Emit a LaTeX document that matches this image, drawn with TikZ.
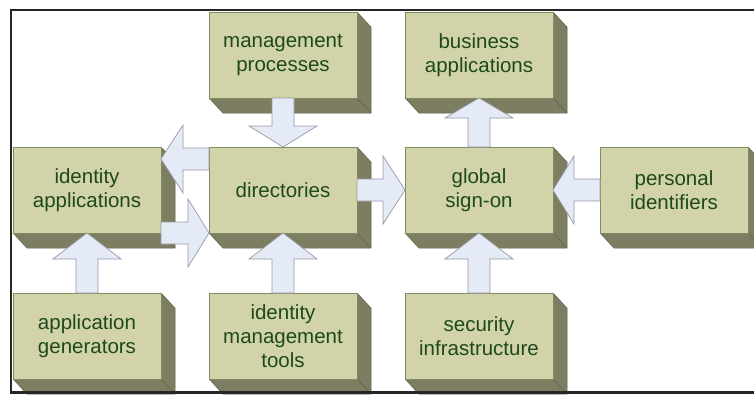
\documentclass[tikz,border=0pt]{standalone}
\usepackage{fontspec}
\setmainfont{Liberation Sans}
\usetikzlibrary{calc}
\definecolor{frontc}{HTML}{D3D3A9}
\definecolor{edgec}{HTML}{7F8C63}
\definecolor{sidec}{HTML}{7D7D62}
\definecolor{sideedge}{HTML}{5F5F48}
\definecolor{textc}{HTML}{1C4A1C}
\definecolor{arrowc}{HTML}{E4EAF6}
\definecolor{arrowedge}{HTML}{9A9AA6}
\tikzset{
  face/.style={draw=edgec, line width=0.6pt, fill=frontc, text=textc,
    minimum width=148pt, minimum height=86pt, inner sep=0pt, outer sep=0pt,
    align=center, font=\fontsize{20.5}{24}\selectfont},
  side/.style={fill=sidec, draw=sideedge, line width=0.5pt, line join=round},
  arr/.style={fill=arrowc, draw=arrowedge, line width=0.7pt, line join=miter},
}
\newcommand\xbox[4]{%
  \draw[side] (#2+148,#3) -- (#2+162,#3+15) -- (#2+162,#3+101) -- (#2+14,#3+101) -- (#2,#3+86) -- (#2+148,#3+86) -- cycle;
  \draw[sideedge, line width=0.5pt] (#2+148,#3+86) -- (#2+162,#3+101);
  \node[face, anchor=north west] (#1) at (#2,#3) {#4};
}
\newcommand\blockarrow[3][22pt]{%
  \coordinate (ba-c) at ($(#3)!#1!(#2)$);
  \draw[arr] ($(#2)!11pt!90:(#3)$) -- ($(ba-c)!11pt!90:(#3)$) -- ($(ba-c)!34pt!90:(#3)$)
    -- (#3) -- ($(ba-c)!34pt!-90:(#3)$) -- ($(ba-c)!11pt!-90:(#3)$) -- ($(#2)!11pt!-90:(#3)$) -- cycle;
}
\begin{document}
\begin{tikzpicture}[x=1pt, y=-1pt]
\useasboundingbox (0,0) rectangle (754,394);
\clip (0,0) rectangle (754,394);
\fill[white] (0,0) rectangle (754,394);
% boxes
\xbox{mp}{209}{12}{management\\processes}
\xbox{ba}{405}{12}{business\\applications}
\xbox{ia}{13}{147}{identity\\applications}
\xbox{dir}{209}{147}{directories}
\xbox{gso}{405}{147}{global\\sign-on}
\xbox{pi}{600}{147}{personal\\identifiers}
\xbox{ag}{13}{293}{application\\generators}
\xbox{imt}{209}{293}{identity\\management\\tools}
\xbox{si}{405}{293}{security\\infrastructure}
% helper coordinates
\coordinate (dl) at ($(dir.north west)+(0,12)$);
\coordinate (ir) at ($(ia.north east)+(0,12)$);
% arrows
\blockarrow[21pt]{mp.south}{dir.north}
\blockarrow[22pt]{dl}{ir}
\blockarrow[21pt]{ia.south east}{dir.south west}
\blockarrow[22pt]{dir.east}{gso.west}
\blockarrow[20pt]{gso.north}{ba.south}
\blockarrow[21pt]{pi.west}{gso.east}
\blockarrow[26pt]{ag.north}{ia.south}
\blockarrow[26pt]{imt.north}{dir.south}
\blockarrow[26pt]{si.north}{gso.south}
% frame
\draw[line width=2.2pt, black!85] (770,10) -- (11,10) -- (11,392.5) -- (770,392.5);
\end{tikzpicture}
\end{document}
